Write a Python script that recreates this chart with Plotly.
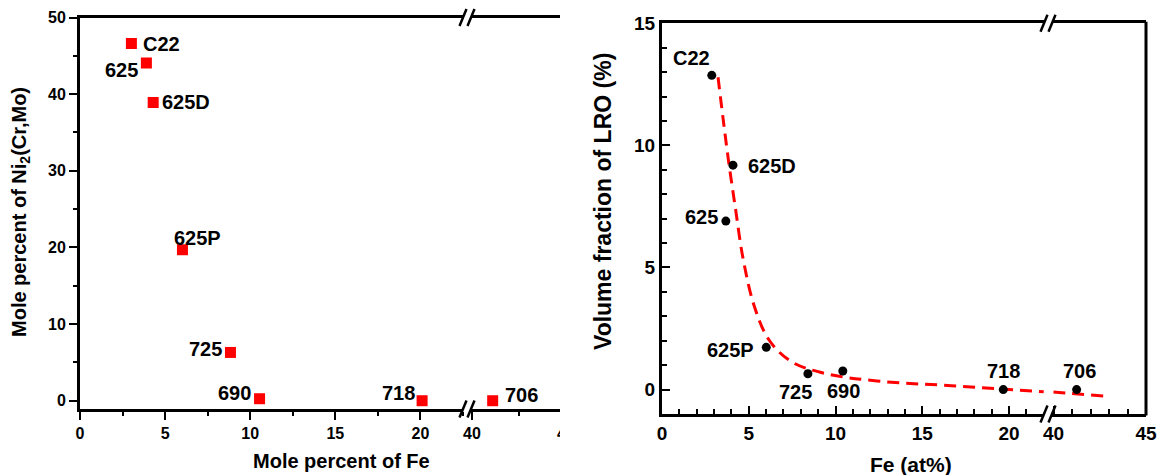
import plotly.graph_objects as go

W, H = 1162, 475

# ---------------- data ----------------
left_names = ["C22", "625", "625D", "625P", "725", "690", "718", "706"]
left_fe = [3.02, 3.90, 4.30, 6.02, 8.84, 10.55, 20.1, 41.1]
left_ni2 = [46.6, 44.05, 38.9, 19.7, 6.3, 0.26, 0.0, 0.0]

right_names = ["C22", "625D", "625", "625P", "725", "690", "718", "706"]
right_fe = [2.87, 4.09, 3.68, 6.01, 8.41, 10.42, 19.67, 41.25]
right_lro = [12.87, 9.19, 6.9, 1.73, 0.65, 0.76, 0.0, 0.0]

curve_fe_low = [3.23, 3.51, 3.83, 4.22, 4.69, 5.33, 6.18, 7.47, 9.4, 12.39, 16.67, 22.0]
curve_lro_low = [12.79, 11.16, 9.39, 7.48, 5.30, 3.39, 2.02, 1.14, 0.66, 0.35, 0.16, -0.09]
curve_fe_high = [40.0, 40.29, 42.79]
curve_lro_high = [-0.10, -0.12, -0.27]

x_ticks_low = [0, 5, 10, 15, 20]
x_ticks_high = [40, 45]
left_y_ticks = [0, 10, 20, 30, 40, 50]
right_y_ticks = [0, 5, 10, 15]

# ---------------- styles ----------------
FONT = "Liberation Sans, Arial, sans-serif"
left_label_offsets = {  # pixel offsets (dx right, dy down) of labels from their markers
    "C22": (30, 0), "625": (-25, 7), "625D": (33, -1), "625P": (15, -12),
    "725": (-25, -3), "690": (-25, -6), "718": (-24, -8), "706": (29, -6),
}
right_label_offsets = {
    "C22": (-20, -17), "625D": (39, 1), "625": (-24, -4), "625P": (-36, 3),
    "725": (-12, 18), "690": (1, 20), "718": (0, -19), "706": (3, -19),
}


def px(p):
    return p / W


def py(p):
    return 1 - p / H


def bold(size):
    return dict(family=FONT, size=size, color="black", weight="bold")


fig = go.Figure()
BREAK = 30  # values above this sit on the upper segment of the broken axis

# left panel markers
lo = [i for i, f in enumerate(left_fe) if f < BREAK]
hi = [i for i, f in enumerate(left_fe) if f >= BREAK]
for idx, xa in ((lo, "x"), (hi, "x2")):
    fig.add_trace(go.Scatter(
        x=[left_fe[i] for i in idx], y=[left_ni2[i] for i in idx],
        mode="markers", xaxis=xa, yaxis="y",
        marker=dict(symbol="square", size=11, color="#ff0000"), showlegend=False))

# right panel dashed curve
dash_line = dict(color="#ff0000", width=3, dash="12px,7px", shape="spline", smoothing=1.0)
fig.add_trace(go.Scatter(x=curve_fe_low, y=curve_lro_low, mode="lines", xaxis="x3", yaxis="y2",
                         line=dash_line, showlegend=False))
fig.add_trace(go.Scatter(x=curve_fe_high, y=curve_lro_high, mode="lines", xaxis="x4", yaxis="y2",
                         line=dash_line, showlegend=False))

# right panel markers
lo = [i for i, f in enumerate(right_fe) if f < BREAK]
hi = [i for i, f in enumerate(right_fe) if f >= BREAK]
for idx, xa in ((lo, "x3"), (hi, "x4")):
    fig.add_trace(go.Scatter(
        x=[right_fe[i] for i in idx], y=[right_lro[i] for i in idx],
        mode="markers", xaxis=xa, yaxis="y2",
        marker=dict(symbol="circle", size=9, color="black"), showlegend=False))

annotations = []
for n, f, v in zip(left_names, left_fe, left_ni2):
    dx, dy = left_label_offsets[n]
    annotations.append(dict(text=n, x=f, y=v, xref="x" if f < BREAK else "x2", yref="y",
                            xanchor="center", yanchor="middle",
                            xshift=dx, yshift=-dy, showarrow=False, font=bold(20)))
for n, f, v in zip(right_names, right_fe, right_lro):
    dx, dy = right_label_offsets[n]
    annotations.append(dict(text=n, x=f, y=v, xref="x3" if f < BREAK else "x4", yref="y2",
                            xanchor="center", yanchor="middle",
                            xshift=dx, yshift=-dy, showarrow=False, font=bold(20)))

# axis titles
annotations += [
    dict(text="Mole percent of Fe", x=px(341), y=py(461), font=bold(20)),
    dict(text="Mole percent of Ni<sub>2</sub>(Cr,Mo)", x=px(20), y=py(212), textangle=-90, font=bold(20)),
    dict(text="Fe (at%)", x=px(911), y=py(464), font=bold(21)),
    dict(text="Volume fraction of LRO (%)", x=px(603), y=py(202), textangle=-90, font=bold(23)),
]
for a in annotations[-4:]:
    a.update(xref="paper", yref="paper", xanchor="center", yanchor="middle", showarrow=False)

shapes = []


def brk(c1, c2, yc):
    # "//" axis-break mark
    for c in (c1, c2):
        shapes.append(dict(type="line", xref="paper", yref="paper",
                           x0=px(c - 3.5), y0=py(yc + 8.5), x1=px(c + 3.5), y1=py(yc - 8.5),
                           line=dict(color="black", width=2.5), layer="above"))


brk(463, 471, 17.5)
brk(463, 471, 409)
brk(1044, 1052, 23.3)
brk(1044, 1052, 414)
# right spine of the right panel
shapes.append(dict(type="line", xref="paper", yref="paper", x0=px(1146), x1=px(1146),
                   y0=py(415.5), y1=py(21.8), line=dict(color="black", width=3), layer="above"))
# the left panel is cropped at its right edge in the reference
shapes.append(dict(type="rect", xref="paper", yref="paper", x0=px(560), x1=px(580), y0=0, y1=1,
                   fillcolor="white", line=dict(width=0), layer="above"))


def axis(domain, rng, tick0, dtick, minor_dtick, anchor, side, fsize, minor_len, mirror=True):
    return dict(domain=domain, range=rng, anchor=anchor, automargin=False, autorange=False,
                showline=True, linewidth=3, linecolor="black", mirror=mirror,
                showgrid=False, zeroline=False,
                tickmode="linear", tick0=tick0, dtick=dtick,
                ticks=side, ticklen=8, tickwidth=2, tickcolor="black",
                showticklabels=True, tickfont=bold(fsize),
                minor=dict(ticks=side, ticklen=minor_len, tickwidth=2, tickcolor="black",
                           tickmode="linear", tick0=tick0, dtick=minor_dtick, showgrid=False))


d_lx = x_ticks_low[1] - x_ticks_low[0]
d_ly = left_y_ticks[1] - left_y_ticks[0]
d_ry = right_y_ticks[1] - right_y_ticks[0]

fig.update_layout(
    template="none",
    width=W, height=H, autosize=False, margin=dict(l=0, r=0, t=0, b=0, pad=0, autoexpand=False),
    paper_bgcolor="white", plot_bgcolor="white",
    xaxis=axis([px(80), px(463)], [0, (463 - 80) / 17.02], x_ticks_low[0], d_lx, 2.5,
               "y", "outside", 16, 4),
    xaxis2=axis([px(471), px(566)], [40 - 1 / 18.8, 45], x_ticks_high[0], d_lx, 2.5,
                "y", "outside", 16, 4),
    yaxis=axis([py(409), py(17.5)], [-1.08, 50], left_y_ticks[0], d_ly, 5,
               "x", "outside", 16, 4, mirror=False),
    xaxis3=axis([px(662), px(1044)], [0, (1044 - 662) / 17.35], x_ticks_low[0], d_lx, 1,
                "y2", "inside", 19, 5),
    xaxis4=axis([px(1052), px(1146)], [40 - 1.5 / 18.5, 45], x_ticks_high[0], d_lx, 1,
                "y2", "inside", 19, 5),
    yaxis2=axis([py(414), py(23.3)], [-1.0, 15.0], right_y_ticks[0], d_ry, 1,
                "x3", "inside", 19, 5, mirror=False),
    annotations=annotations,
    shapes=shapes,
)

# force the browser to recompute styles / repaint after plotting (ticks otherwise may not paint)
repaint = r"""
(function(){
  var gd = document.getElementById('{plot_id}');
  function kick(){
    try {
      var els = gd.querySelectorAll('path.xtick, path.ytick, path.xlines-above, path.ylines-above, g.xtick text, g.ytick text');
      els.forEach(function(e){ var cs = getComputedStyle(e); void cs.stroke; void cs.fontWeight; void e.getBBox(); });
      void document.elementFromPoint(79, 200);
      void document.elementFromPoint(200, 410);
      void document.elementFromPoint(76, 94);
      void document.elementFromPoint(50, 94);
      var d = document.createElement('div');
      d.style.cssText = 'position:absolute;left:0;top:0;width:1162px;height:475px;pointer-events:none;background:transparent;z-index:99';
      d.textContent = '';
      document.body.appendChild(d);
      void document.body.offsetHeight;
    } catch(e) {}
  }
  kick();
  setTimeout(kick, 50);
  if (window.requestAnimationFrame) requestAnimationFrame(kick);
})();
"""
fig.write_html("out.html", post_script=repaint)
